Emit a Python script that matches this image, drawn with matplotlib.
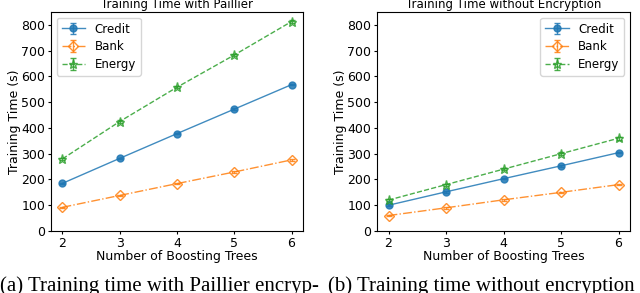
import numpy as np
import matplotlib.pyplot as plt

trees = [2, 3, 4, 5, 6]

# training time with Paillier encryption (s)
pail_credit = [185, 282, 378, 473, 568]
pail_bank = [92, 138, 184, 229, 276]
pail_energy = [280, 425, 558, 683, 813]

# training time without encryption (s)
plain_credit = [100, 152, 203, 253, 304]
plain_bank = [60, 90, 121, 150, 180]
plain_energy = [120, 180, 240, 300, 360]

err_credit = [3, 3, 3, 3, 3]
err_bank = [3, 3, 3, 3, 3]
err_energy = [4, 4, 4, 5, 5]

fig = plt.figure(figsize=(6.4, 2.93), dpi=100)
ax1 = fig.add_axes([51 / 640, 1 - 231 / 293, 252 / 640, 219 / 293])
ax2 = fig.add_axes([377 / 640, 1 - 231 / 293, 253 / 640, 219 / 293])

def draw(ax, credit, bank, energy, title, loc):
    ax.errorbar(trees, credit, yerr=err_credit, color="tab:blue", marker="o",
                markersize=5, linestyle="-", linewidth=1, capsize=2.5,
                alpha=0.85, label="Credit")
    ax.errorbar(trees, bank, yerr=err_bank, color="tab:orange", marker="D",
                markersize=5, fillstyle="none", linestyle="-.", linewidth=1,
                capsize=2.5, alpha=0.85, label="Bank")
    ax.errorbar(trees, energy, yerr=err_energy, color="tab:green", marker="*",
                markersize=6.5, fillstyle="none", linestyle="--", linewidth=1,
                capsize=2.5, alpha=0.85, label="Energy")
    ax.set_ylim(0, 850)
    ax.set_yticks(range(0, 900, 100))
    ax.set_xticks(trees)
    ax.set_xlabel("Number of Boosting Trees", fontsize=9, labelpad=0.5)
    ax.set_ylabel("Training Time (s)", fontsize=9, labelpad=0)
    ax.set_title(title, fontsize=8.5, pad=3)
    ax.tick_params(labelsize=9, length=2.5, pad=1.5)
    ax.legend(loc=loc, fontsize=8.5, handlelength=2.0, labelspacing=0.4)

draw(ax1, pail_credit, pail_bank, pail_energy, "Training Time with Paillier", "upper left")
draw(ax2, plain_credit, plain_bank, plain_energy, "Training Time without Encryption", "upper right")

fig.text(0.0, 2 / 293, "(a) Training time with Paillier encryp-", family="Liberation Serif",
         fontsize=15, ha="left", va="baseline")
fig.text(328 / 640, 2 / 293, "(b) Training time without encryption", family="Liberation Serif",
         fontsize=15, ha="left", va="baseline")

fig.savefig("out.png", dpi=100)
